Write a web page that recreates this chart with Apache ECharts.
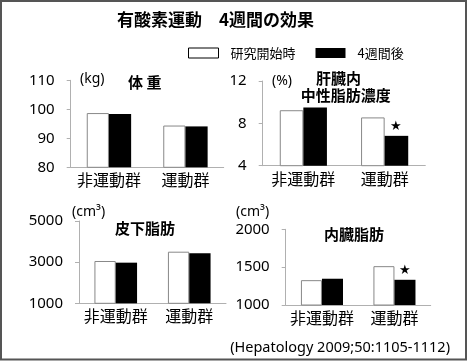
<!DOCTYPE html>
<html><head><meta charset="utf-8">
<script src="https://cdn.jsdelivr.net/npm/echarts@6/dist/echarts.min.js"></script>
<style>html,body{margin:0;padding:0;background:#fff}#c{width:468px;height:362px}</style>
</head><body><div id="c"></div>
<script>
const categories = ['非運動群', '運動群'];
const seriesNames = ['研究開始時', '4週間後'];

const weightBefore = [98.7, 94.4];
const weightAfter = [98.4, 94.1];
const weightTicks = [80, 90, 100, 110];

const liverBefore = [9.24, 8.56];
const liverAfter = [9.49, 6.82];
const liverTicks = [4, 8, 12];

const subcutBefore = [3056, 3508];
const subcutAfter = [2975, 3430];
const subcutTicks = [1000, 3000, 5000];

const visceralBefore = [1328, 1513];
const visceralAfter = [1347, 1333];
const visceralTicks = [1000, 1500, 2000];

// significance markers (★ above the after-series bar)
const liverStar = [false, true];
const visceralStar = [false, true];

const numFont = 'Noto Sans';
const cjkFont = 'Noto Sans CJK JP';

const grids = [
  {left: 70.7, top: 80.3, width: 153, height: 87},
  {left: 262.7, top: 81, width: 162.6, height: 84.7},
  {left: 79, top: 221, width: 147, height: 82.3},
  {left: 285.7, top: 229.3, width: 145, height: 75.7}
];
const panels = [
  {before: weightBefore, after: weightAfter, ticks: weightTicks, interval: 10, star: [false, false]},
  {before: liverBefore, after: liverAfter, ticks: liverTicks, interval: 4, star: liverStar},
  {before: subcutBefore, after: subcutAfter, ticks: subcutTicks, interval: 1000, star: [false, false]},
  {before: visceralBefore, after: visceralAfter, ticks: visceralTicks, interval: 500, star: visceralStar}
];

const xAxis = [], yAxis = [], series = [];
panels.forEach((p, i) => {
  xAxis.push({
    type: 'category', gridIndex: i, data: categories,
    axisLine: {lineStyle: {color: '#b0b0b0', width: 1}},
    axisTick: {show: false},
    axisLabel: {interval: 0, hideOverlap: false, fontFamily: cjkFont, fontSize: 16, color: '#000', margin: 5}
  });
  yAxis.push({
    type: 'value', gridIndex: i,
    min: p.ticks[0], max: p.ticks[p.ticks.length - 1], interval: p.interval,
    splitLine: {show: false},
    axisLine: {show: true, lineStyle: {color: '#b0b0b0', width: 1}},
    axisTick: {show: true, length: 4, customValues: p.ticks, lineStyle: {color: '#b0b0b0'}},
    axisLabel: {customValues: p.ticks, formatter: v => String(v), fontFamily: numFont, fontSize: 15, color: '#000', margin: 16}
  });
  series.push({
    name: seriesNames[0], type: 'bar', xAxisIndex: i, yAxisIndex: i,
    data: p.before, barGap: '0%', barCategoryGap: '42%',
    itemStyle: {color: '#fff', borderColor: '#888', borderWidth: 1},
    silent: true, animation: false
  });
  series.push({
    name: seriesNames[1], type: 'bar', xAxisIndex: i, yAxisIndex: i,
    data: p.after.map((v, k) => p.star[k] ? {
      value: v,
      label: {show: true, position: 'top', formatter: '★', fontSize: 13, color: '#000', distance: 3}
    } : v),
    barGap: '0%', barCategoryGap: '42%',
    itemStyle: {color: '#000'},
    silent: true, animation: false
  });
});

function txt(x, y, text, size, opts) {
  return {
    type: 'text', x: x, y: y, silent: true,
    style: Object.assign({
      text: text, fontSize: size, fontFamily: cjkFont, fill: '#000',
      textAlign: 'left', textVerticalAlign: 'middle'
    }, opts || {})
  };
}

const graphic = [
  {type: 'rect', shape: {x: 1, y: 1, width: 465, height: 358.5}, style: {fill: 'none', stroke: '#555', lineWidth: 2}, silent: true},
  txt(117, 20, '有酸素運動　4週間の効果', 17, {fontWeight: 'bold'}),
  txt(80, 79, '(kg)', 14, {fontFamily: numFont}),
  txt(128, 82, '体 重', 15, {fontWeight: 'bold'}),
  txt(272, 80.7, '(%)', 14, {fontFamily: numFont}),
  txt(316, 78, '肝臓内', 15, {fontWeight: 'bold'}),
  txt(300.7, 95, '中性脂肪濃度', 15, {fontWeight: 'bold'}),
  txt(72, 211.7, '(cm³)', 14, {fontFamily: numFont}),
  txt(115, 228, '皮下脂肪', 15, {fontWeight: 'bold'}),
  txt(236, 211.7, '(cm³)', 14, {fontFamily: numFont}),
  txt(324, 234.3, '内臓脂肪', 15, {fontWeight: 'bold'}),
  txt(450, 348, '(Hepatology 2009;50:1105-1112)', 14.5, {fontFamily: numFont, textAlign: 'right'})
];

const chart = echarts.init(document.getElementById('c'), null, {renderer: 'canvas'});
chart.setOption({
  animation: false,
  backgroundColor: '#fff',
  grid: grids,
  xAxis: xAxis,
  yAxis: yAxis,
  series: series,
  legend: {
    left: 183, top: 40, itemWidth: 30, itemHeight: 10, itemGap: 20,
    icon: 'rect', selectedMode: false,
    data: [
      {name: seriesNames[0], itemStyle: {color: '#fff', borderColor: '#000', borderWidth: 1}},
      {name: seriesNames[1], itemStyle: {color: '#000'}}
    ],
    textStyle: {fontFamily: cjkFont, fontSize: 13, color: '#000', padding: [0, 0, 0, 7], lineHeight: 16}
  },
  graphic: graphic
});
</script></body></html>
